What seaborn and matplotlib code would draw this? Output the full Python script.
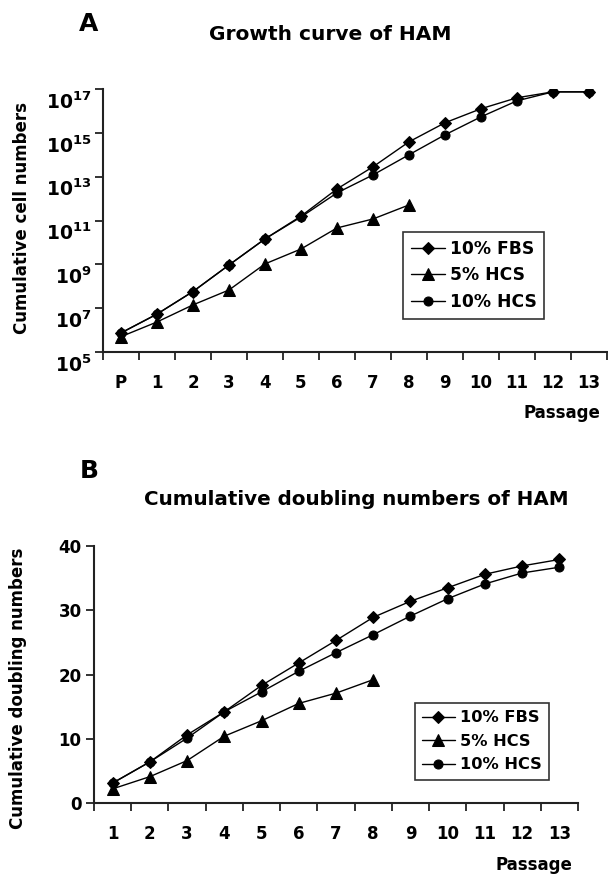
import numpy as np
import matplotlib
matplotlib.use("Agg")
import matplotlib.pyplot as plt
import matplotlib.transforms as mtransforms
from matplotlib.ticker import FixedLocator, FuncFormatter
import seaborn as sns

# Dados
passages_a = ["P", "1", "2", "3", "4", "5", "6", "7", "8", "9", "10", "11", "12", "13"]
passages_b = ["1", "2", "3", "4", "5", "6", "7", "8", "9", "10", "11", "12", "13"]

# Painel A: expoente (log10) do numero cumulativo de celulas
log_cells_fbs10 = [5.87, 6.73, 7.76, 8.97, 10.16, 11.2, 12.44, 13.45, 14.59, 15.46, 16.1, 16.6, 16.87, 16.87]
log_cells_hcs5 = [5.7, 6.37, 7.15, 7.83, 9.02, 9.7, 10.66, 11.07, 11.71]
log_cells_hcs10 = [5.87, 6.73, 7.76, 8.97, 10.16, 11.16, 12.26, 13.08, 14.0, 14.91, 15.73, 16.46, 16.87, 16.87]

# Painel B: numero cumulativo de duplicacoes
doubling_fbs10 = [3.1, 6.4, 10.6, 14.2, 18.3, 21.8, 25.3, 28.9, 31.4, 33.5, 35.6, 36.9, 37.9]
doubling_hcs5 = [2.2, 4.1, 6.6, 10.4, 12.8, 15.5, 17.1, 19.2]
doubling_hcs10 = [3.1, 6.4, 10.1, 14.2, 17.3, 20.5, 23.4, 26.2, 29.1, 31.8, 34.1, 35.8, 36.7]

series_labels = ["10% FBS", "5% HCS", "10% HCS"]
series_markers = ["D", "^", "o"]

sns.set_theme(style="white")
plt.rcParams["font.family"] = ["DejaVu Sans"]
plt.rcParams["font.weight"] = "bold"
plt.rcParams["mathtext.fontset"] = "dejavusans"
plt.rcParams["text.color"] = "black"
plt.rcParams["xtick.color"] = "black"
plt.rcParams["ytick.color"] = "black"
plt.rcParams["xtick.labelcolor"] = "black"
plt.rcParams["ytick.labelcolor"] = "black"

fig = plt.figure(figsize=(6.08, 8.77), dpi=100)
W, H = 608, 877
axA = fig.add_axes([103 / W, 1 - 352 / H, 504 / W, 263 / H])
axB = fig.add_axes([94 / W, 1 - 803 / H, 484 / W, 257 / H])

axis_color = "#222222"


def draw_series(ax, ys_list):
    for ys, lab, mk in zip(ys_list, series_labels, series_markers):
        xs = np.arange(len(ys))
        ms = 8 if mk == "^" else 6.5
        sns.lineplot(x=xs, y=ys, ax=ax, color="black", linewidth=1.0,
                     marker=mk, markersize=ms, markeredgecolor="black",
                     label=lab)


def style_axes(ax, labels):
    n = len(labels)
    ax.set_xlim(-0.5, n - 0.5)
    ax.set_xticks(np.arange(n))
    ax.set_xticklabels(labels, fontsize=12, fontweight="bold")
    ax.xaxis.set_minor_locator(FixedLocator(np.arange(n + 1) - 0.5))
    ax.tick_params(axis="x", which="major", length=0, pad=16)
    ax.tick_params(axis="x", which="minor", length=6, width=1.3,
                   direction="out", color=axis_color, bottom=True)
    ax.tick_params(axis="y", which="major", length=6, width=1.3,
                   direction="out", color=axis_color, left=True)
    for side in ["top", "right"]:
        ax.spines[side].set_visible(False)
    for side in ["left", "bottom"]:
        ax.spines[side].set_color(axis_color)
        ax.spines[side].set_linewidth(1.5)


def make_legend(ax, anchor, size, spacing):
    leg = ax.legend(loc="upper left", bbox_to_anchor=anchor, borderaxespad=0,
                    frameon=True, fancybox=False, edgecolor="black",
                    prop={"weight": "bold", "size": size}, handlelength=2.0,
                    handletextpad=0.3, labelspacing=spacing, borderpad=0.45)
    leg.get_frame().set_linewidth(1.2)
    for t in leg.get_texts():
        t.set_color("black")
    return leg


# ---- Painel A ----
draw_series(axA, [10 ** np.array(log_cells_fbs10),
                  10 ** np.array(log_cells_hcs5),
                  10 ** np.array(log_cells_hcs10)])
axA.set_yscale("log")
axA.set_ylim(1e5, 1e17)
axA.yaxis.set_major_locator(FixedLocator([10.0 ** k for k in range(5, 18, 2)]))
axA.yaxis.set_minor_locator(FixedLocator([]))
axA.yaxis.set_major_formatter(FuncFormatter(lambda v, p: r"$\mathbf{10^{%d}}$" % round(np.log10(v))))
style_axes(axA, passages_a)
axA.tick_params(axis="y", labelsize=13.5, pad=2)
offset = mtransforms.ScaledTranslation(0, -0.11, fig.dpi_scale_trans)
for t in axA.get_yticklabels():
    t.set_transform(t.get_transform() + offset)
axA.set_xlabel("")
axA.set_ylabel("")
make_legend(axA, (0.595, 0.456), 12.3, 0.5)

# ---- Painel B ----
draw_series(axB, [doubling_fbs10, doubling_hcs5, doubling_hcs10])
axB.set_ylim(0, 40)
axB.set_yticks([0, 10, 20, 30, 40])
axB.set_yticklabels(["0", "10", "20", "30", "40"], fontsize=12, fontweight="bold")
style_axes(axB, passages_b)
axB.tick_params(axis="y", pad=3)
axB.set_xlabel("")
axB.set_ylabel("")
make_legend(axB, (0.663, 0.389), 11.7, 0.52)

# Textos da figura
fig.text(89 / W, 1 - 24 / H, "A", fontsize=18, fontweight="bold", ha="center", va="center")
fig.text(330 / W, 1 - 35 / H, "Growth curve of HAM", fontsize=14.5, fontweight="bold",
         ha="center", va="center")
fig.text(22 / W, 1 - 218 / H, "Cumulative cell numbers", fontsize=12, fontweight="bold",
         rotation=90, ha="center", va="center")
fig.text(600 / W, 1 - 413 / H, "Passage", fontsize=12, fontweight="bold", ha="right", va="center")

fig.text(89 / W, 1 - 471 / H, "B", fontsize=18, fontweight="bold", ha="center", va="center")
fig.text(356 / W, 1 - 499 / H, "Cumulative doubling numbers of HAM", fontsize=14.3,
         fontweight="bold", ha="center", va="center")
fig.text(18 / W, 1 - 688 / H, "Cumulative doubling numbers", fontsize=12, fontweight="bold",
         rotation=90, ha="center", va="center")
fig.text(572 / W, 1 - 865 / H, "Passage", fontsize=12, fontweight="bold", ha="right", va="center")

fig.savefig("out.png", dpi=100, facecolor="white")
